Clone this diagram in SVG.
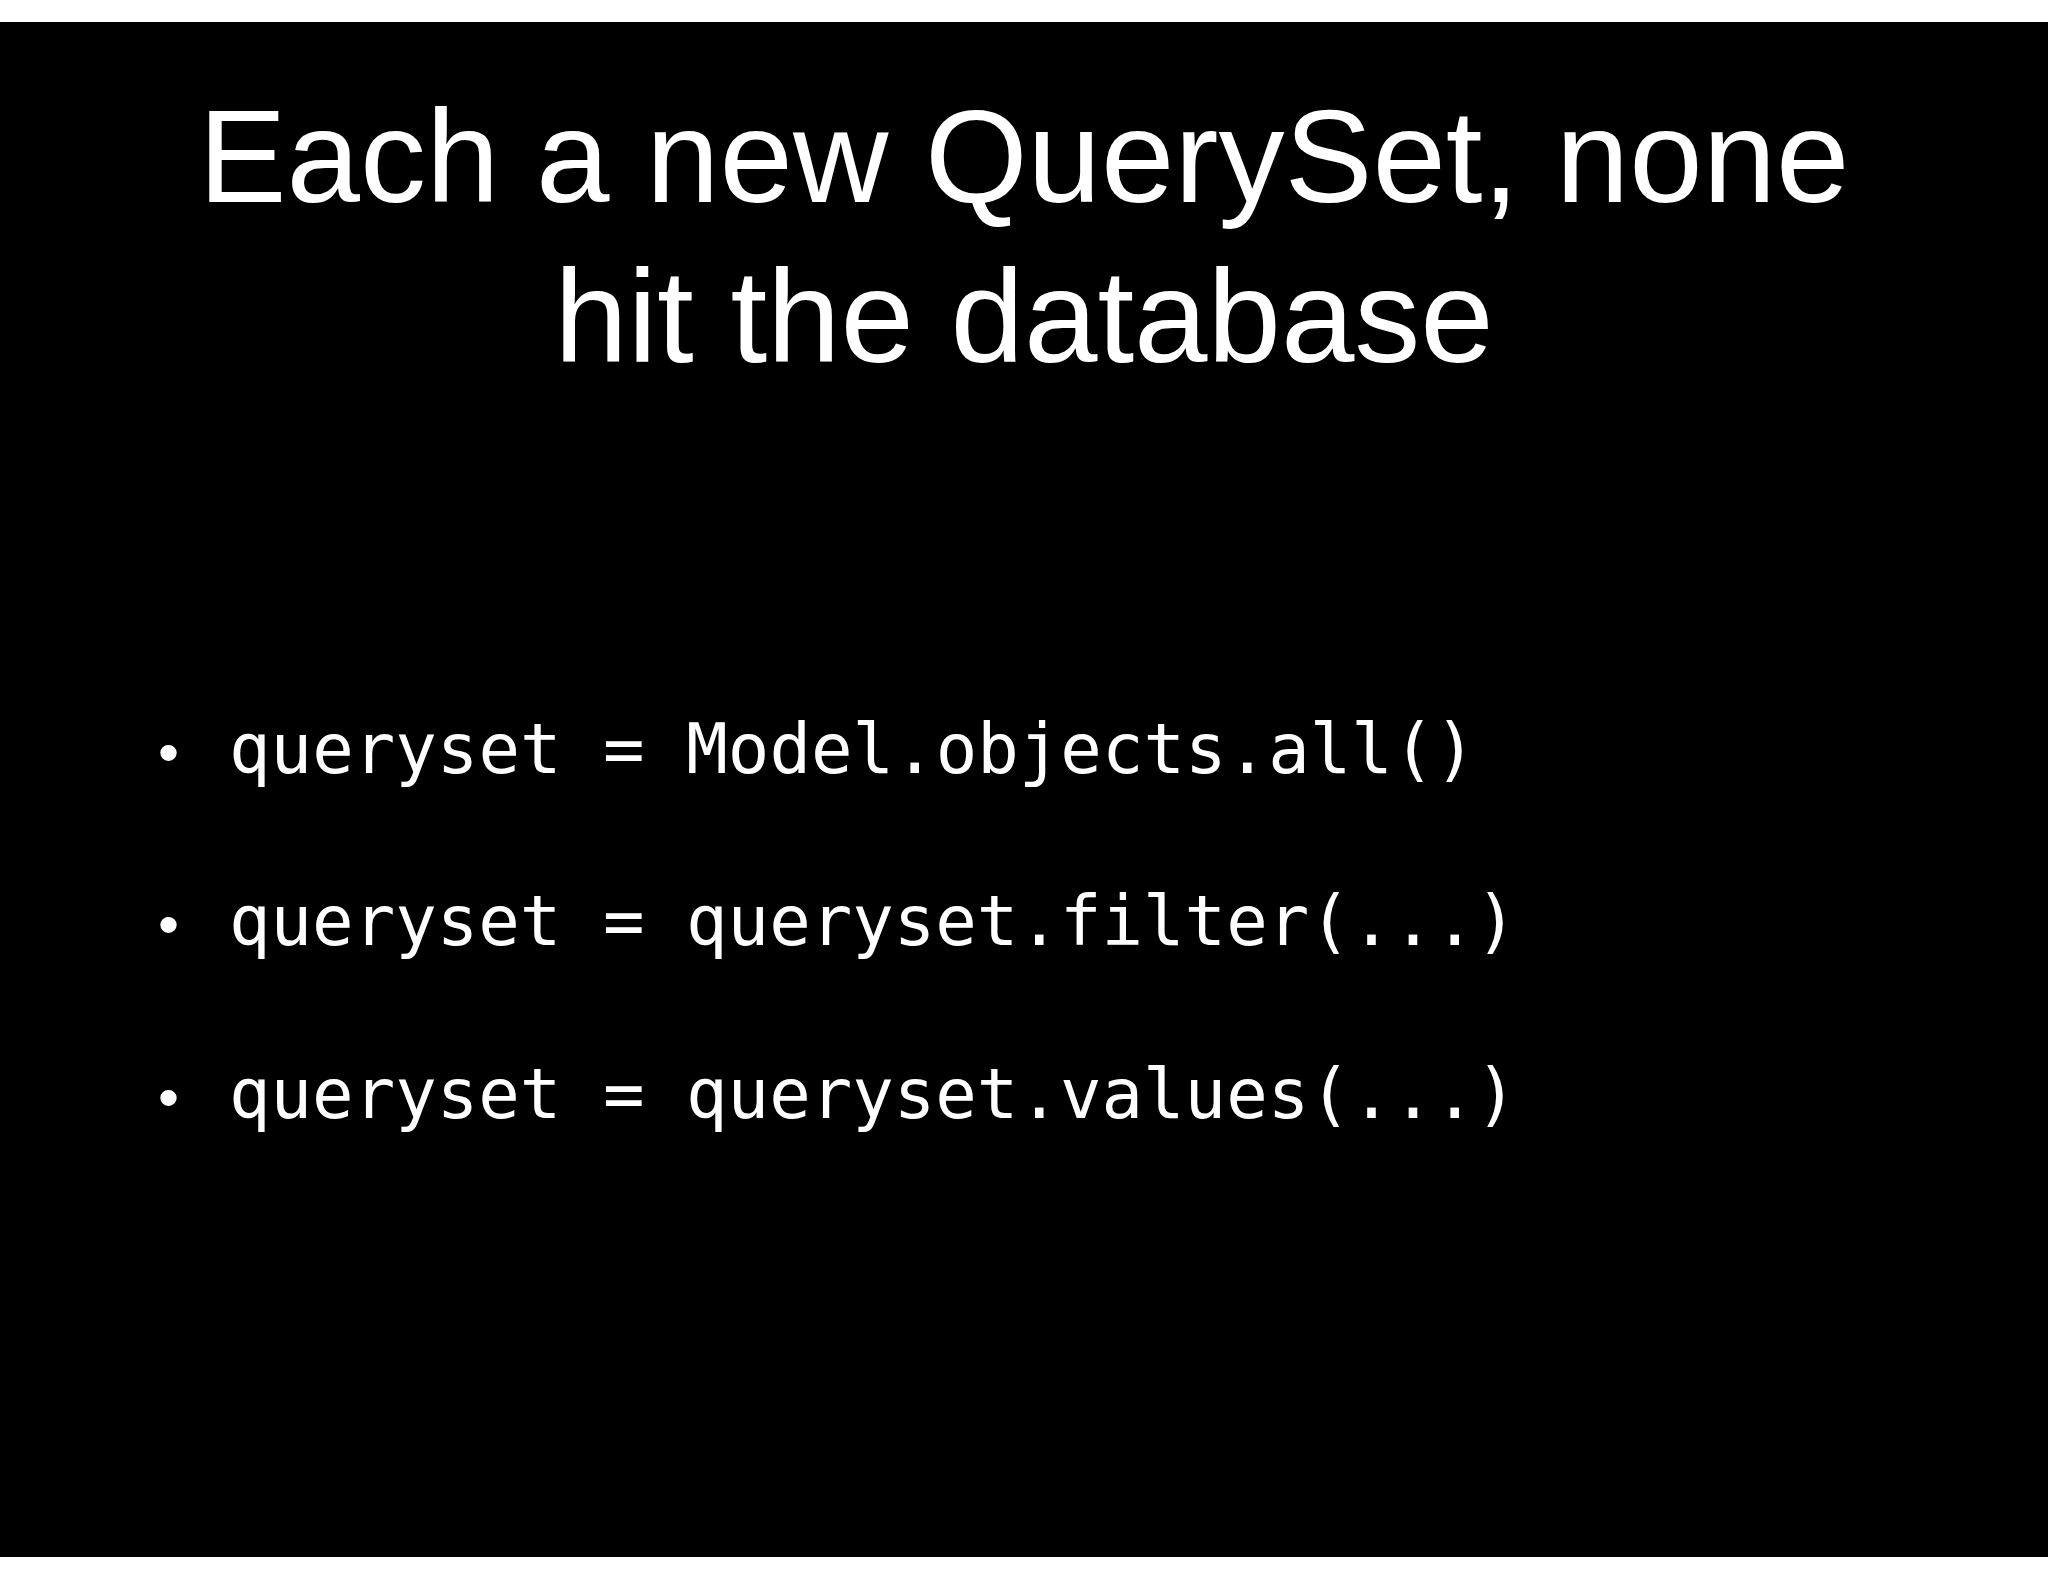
<svg xmlns="http://www.w3.org/2000/svg" width="2048" height="1582" viewBox="0 0 2048 1582">
<style>
.t{font-family:"Liberation Sans",Arial,sans-serif;font-size:132px;fill:#fff;text-anchor:middle}
.c{font-family:"DejaVu Sans Mono","Liberation Mono",monospace;font-size:69px;fill:#fff}
.b{font-family:"Liberation Sans",Arial,sans-serif;font-size:60px;fill:#fff}
</style>
<rect width="2048" height="1582" fill="#fff"/>
<rect x="0" y="22" width="2048" height="1535" fill="#000"/>
<g id="title">
<text class="t" x="1024" y="202">Each a new QuerySet, none</text>
<text class="t" x="1024" y="362">hit the database</text>
</g>
<g id="bullets">
<text class="b" x="158" y="773">•</text><text class="c" x="229" y="773" textLength="1247">queryset = Model.objects.all()</text>
<text class="b" x="158" y="945">•</text><text class="c" x="229" y="945" textLength="1288">queryset = queryset.filter(...)</text>
<text class="b" x="158" y="1118">•</text><text class="c" x="229" y="1118" textLength="1288">queryset = queryset.values(...)</text>
</g>
</svg>
